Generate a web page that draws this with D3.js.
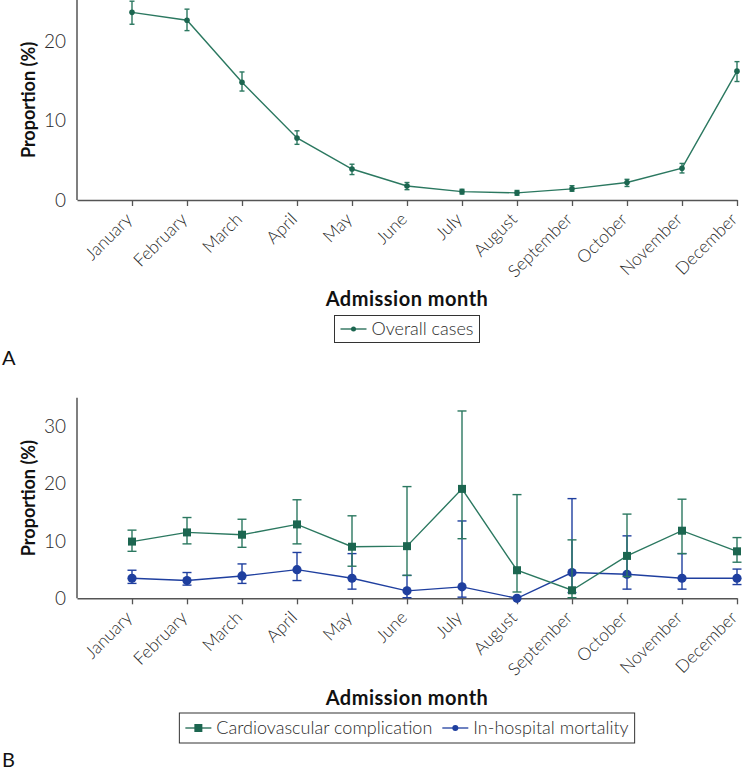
<!DOCTYPE html>
<html><head><meta charset="utf-8">
<script src="https://cdn.jsdelivr.net/npm/d3@7"></script>
<style>
body{margin:0;background:#fff;}
svg{display:block;font-family:Lato,"Open Sans",sans-serif;}
</style></head>
<body><svg id="c" width="745" height="771"></svg>
<script>
const months = ["January","February","March","April","May","June","July","August","September","October","November","December"];

// Panel A: overall cases (%)
const overall   = [23.6,22.6,14.8,7.8,3.9,1.76,1.05,0.9,1.4,2.2,4.0,16.2];
const overallLo = [22.1,21.3,13.7,7.0,3.2,1.3,0.75,0.6,1.1,1.7,3.4,14.9];
const overallHi = [25.0,24.0,16.1,8.7,4.5,2.2,1.35,1.2,1.8,2.6,4.6,17.4];

// Panel B: cardiovascular complication (%)
const cv   = [9.9,11.5,11.1,12.9,9.0,9.1,19.1,4.9,1.4,7.4,11.8,8.2];
const cvLo = [8.2,9.5,8.9,9.5,5.6,4.0,10.4,1.1,0.1,3.8,7.8,6.3];
const cvHi = [11.9,14.1,13.8,17.2,14.4,19.5,32.7,18.1,10.2,14.7,17.3,10.6];

// Panel B: in-hospital mortality (%)
const mort   = [3.5,3.1,3.9,5.0,3.5,1.3,2.0,0,4.5,4.2,3.5,3.5];
const mortLo = [2.6,2.3,2.6,3.1,1.6,0.1,0.2,0,1.0,1.6,1.6,2.4];
const mortHi = [4.9,4.5,6.0,8.0,7.8,4.0,13.5,0,17.4,10.9,7.8,5.1];

const ticksA = [0,10,20];
const ticksB = [0,10,20,30];

const GREEN = "#1c6650", GREEN_L = "#2b7860", BLUE = "#1f3f9f", AXIS = "#555", TXT = "#2a2a2a";
const svg = d3.select("#c");

const x = d3.scaleLinear().domain([0,12]).range([77,737]);
const xm = i => x(i+1);

function panel(y, yTicks, axisY, titleCY, legendY, legendH, legendItems, panelLabel, labelY) {
  const g = svg.append("g");
  // y axis
  g.append("line").attr("x1",x(0)).attr("x2",x(0)).attr("y1",y.range()[1]).attr("y2",y.range()[0])
    .attr("stroke",AXIS).attr("stroke-width",1.5);
  g.selectAll(".yt").data(yTicks).join("text")
    .attr("x",66).attr("y",d=>y(d)).attr("dy","0.35em").attr("text-anchor","end")
    .attr("font-size",19).attr("font-weight",300).attr("fill",TXT).text(d=>d);
  // x axis
  const xa = g.append("g").attr("transform",`translate(0,${axisY})`)
    .call(d3.axisBottom(x).tickValues(d3.range(1,13)).tickSize(6).tickSizeOuter(0).tickFormat(""));
  xa.select(".domain").attr("stroke",AXIS).attr("stroke-width",1.5);
  xa.selectAll(".tick line").attr("stroke",AXIS).attr("stroke-width",1.3);
  g.selectAll(".xl").data(months).join("text")
    .attr("transform",(d,i)=>`translate(${xm(i)-3},${axisY+16}) rotate(-45)`)
    .attr("text-anchor","end").attr("dy","0.35em")
    .attr("font-size",17.5).attr("font-weight",300).attr("fill",TXT).text(d=>d);
  // titles
  g.append("text").attr("transform",`translate(29,${(y.range()[0]+y.range()[1])/2}) rotate(-90)`)
    .attr("text-anchor","middle").attr("dy","0.35em").attr("font-size",18).attr("font-weight",700)
    .attr("fill","#111").text("Proportion (%)");
  g.append("text").attr("x",407).attr("y",titleCY).attr("dy","0.35em").attr("text-anchor","middle")
    .attr("font-size",20).attr("font-weight",700).attr("letter-spacing",0.5).attr("fill","#111").text("Admission month");
  // legend
  const lg = g.append("g");
  let cx = 6;
  legendItems.forEach((it,k) => {
    const ig = lg.append("g").attr("transform",`translate(${cx},0)`);
    ig.append("line").attr("x1",0).attr("x2",26).attr("y1",0).attr("y2",0).attr("stroke",it.color).attr("stroke-width",1.3);
    if (it.shape==="square") ig.append("rect").attr("x",9).attr("y",-4).attr("width",8).attr("height",8).attr("fill",it.color);
    else ig.append("circle").attr("cx",13).attr("cy",0).attr("r",it.r).attr("fill",it.color);
    const t = ig.append("text").attr("x",31).attr("dy","0.35em").attr("font-size",18).attr("font-weight",300)
      .attr("fill",TXT).text(it.label);
    cx += 31 + t.node().getComputedTextLength() + 10;
  });
  const w = cx - 10 + 6;
  lg.attr("transform",`translate(${407 - w/2},${legendY})`);
  lg.insert("rect",":first-child").attr("x",0).attr("y",-legendH/2).attr("width",w).attr("height",legendH)
    .attr("fill","#fff").attr("stroke","#333").attr("stroke-width",1);
  svg.append("text").attr("x",2).attr("y",labelY).attr("dy","0.35em").attr("font-size",20)
    .attr("font-weight",400).attr("fill","#111").text(panelLabel);
}

function series(y, vals, lo, hi, color, lineColor, shape, size, capW) {
  const g = svg.append("g");
  const line = d3.line().x((d,i)=>xm(i)).y(d=>y(d));
  g.append("path").datum(vals).attr("d",line).attr("fill","none").attr("stroke",lineColor).attr("stroke-width",1.4);
  vals.forEach((v,i)=>{
    if (hi[i]-lo[i] <= 0) return;
    const xx = xm(i);
    g.append("line").attr("x1",xx).attr("x2",xx).attr("y1",y(lo[i])).attr("y2",y(hi[i])).attr("stroke",lineColor).attr("stroke-width",1.4);
    [lo[i],hi[i]].forEach(b=>g.append("line").attr("x1",xx-capW).attr("x2",xx+capW).attr("y1",y(b)).attr("y2",y(b))
      .attr("stroke",lineColor).attr("stroke-width",1.4));
  });
  if (shape==="square")
    g.selectAll("rect").data(vals).join("rect").attr("x",(d,i)=>xm(i)-size).attr("y",d=>y(d)-size)
      .attr("width",size*2).attr("height",size*2).attr("fill",color);
  else
    g.selectAll("circle").data(vals).join("circle").attr("cx",(d,i)=>xm(i)).attr("cy",d=>y(d)).attr("r",size).attr("fill",color);
}

// Panel A
const yA = d3.scaleLinear().domain([0,25.15]).range([200,0]);
panel(yA, ticksA, 200, 299, 329, 27, [{label:"Overall cases",color:GREEN,shape:"circle",r:2.5}], "A", 358);
series(yA, overall, overallLo, overallHi, GREEN, GREEN_L, "circle", 2.8, 2.5);

// Panel B
const yB = d3.scaleLinear().domain([0,35]).range([598.3,397.8]);
panel(yB, ticksB, 598.3, 698, 728, 30, [
  {label:"Cardiovascular complication",color:GREEN,shape:"square"},
  {label:"In-hospital mortality",color:BLUE,shape:"circle",r:3}], "B", 760);
series(yB, mort, mortLo, mortHi, BLUE, BLUE, "circle", 4.6, 4.5);
series(yB, cv, cvLo, cvHi, GREEN, GREEN_L, "square", 4, 4.5);
</script></body></html>
